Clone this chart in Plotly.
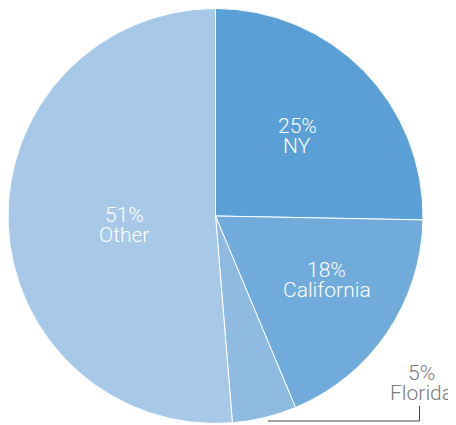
import math
import plotly.graph_objects as go

# ---- data ----
labels = ["NY", "California", "Florida", "Other"]
values = [25.3, 18.4, 5.0, 51.3]
colors = ["#5aa0d6", "#70abdb", "#8fbae2", "#a8c8e8"]

OFF = 8               # page body margin in the browser
W, H = 456 - OFF, 425 - OFF
CX, CY, R = 215.5, 216, 207.5  # pie centre / radius in window pixels (layout)


def px(x):
    return (x - OFF) / W


def py(y):
    return 1 - (y - OFF) / H


fig = go.Figure(
    go.Pie(
        labels=labels,
        values=values,
        sort=False,
        direction="clockwise",
        rotation=0,
        marker=dict(colors=colors, line=dict(color="white", width=1)),
        textinfo="none",
        hoverinfo="label+percent",
        domain=dict(x=[max(0, px(CX - R)), min(1, px(CX + R))],
                    y=[max(0, py(CY + R)), min(1, py(CY - R))]),
    )
)

FONT = "Roboto"
total = sum(values)
# label placement style: radius fraction and pixel nudges per slice
label_style = {
    "NY": (0.551, 0, 0),
    "California": (0.62, 5, 8),
    "Other": (0.439, 0, -5),
}
annotations = []
cum = 0.0
for lab, val in zip(labels, values):
    mid = (cum + val / 2) / total * 2 * math.pi
    cum += val
    pct = f"{round(val / total * 100):.0f}%"
    if lab in label_style:
        frac, xs, ys = label_style[lab]
        x = CX + frac * R * math.sin(mid)
        y = CY - frac * R * math.cos(mid)
        for txt, dy in ((pct, -10), (lab, 10)):
            annotations.append(dict(
                x=px(x), y=py(y + dy), xref="paper", yref="paper",
                text=txt, showarrow=False, xanchor="center", yanchor="middle",
                xshift=xs, yshift=ys,
                font=dict(family=FONT, size=21, color="white", weight=300),
            ))
    else:
        for txt, yy in ((pct, 373), (lab, 393)):
            annotations.append(dict(
                x=px(421), y=py(yy), xref="paper", yref="paper",
                text=txt, showarrow=False, xanchor="center", yanchor="middle",
                font=dict(family=FONT, size=21, color="#7a7a7a", weight=300),
            ))

shapes = [
    dict(type="line", xref="paper", yref="paper",
         x0=px(268), y0=py(421), x1=px(419.5), y1=py(421),
         line=dict(color="#444444", width=1)),
    dict(type="line", xref="paper", yref="paper",
         x0=px(419.5), y0=py(421), x1=px(419.5), y1=py(406),
         line=dict(color="#444444", width=1)),
]

fig.update_layout(
    width=W, height=H,
    margin=dict(l=0, r=0, t=0, b=0),
    showlegend=False,
    paper_bgcolor="white",
    plot_bgcolor="white",
    annotations=annotations,
    shapes=shapes,
)

fig.write_html("out.html")
